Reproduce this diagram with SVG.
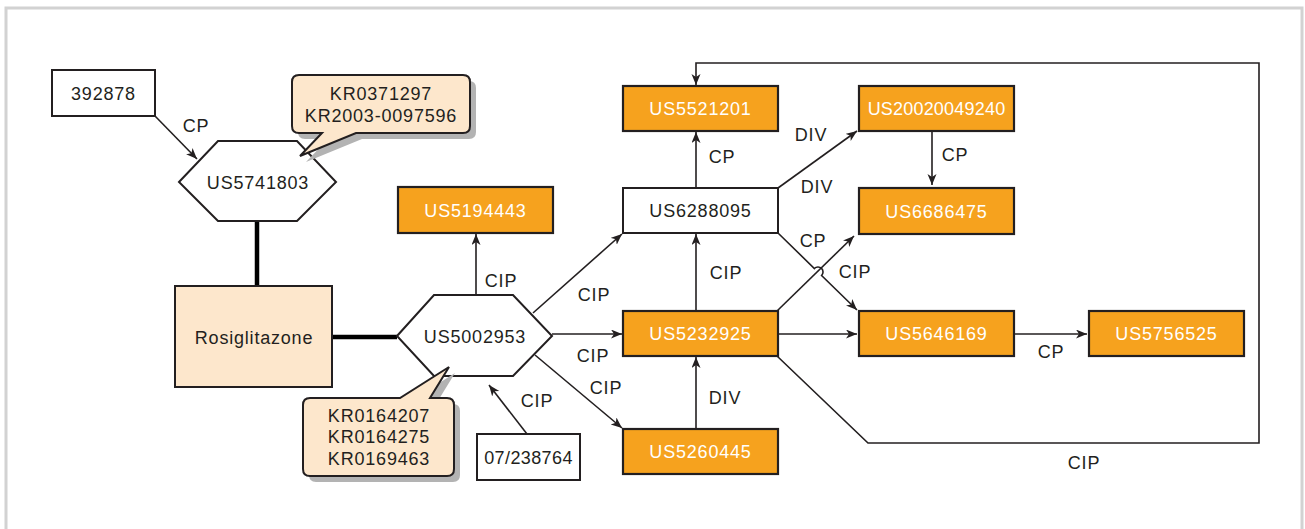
<svg xmlns="http://www.w3.org/2000/svg" width="1305" height="529" viewBox="0 0 1305 529">
<style>
text{font-family:"Liberation Sans",Arial,Helvetica,sans-serif;font-size:18px;letter-spacing:0.8px;fill:#231F20;text-anchor:middle}
.w{fill:#ffffff}
.box{fill:#ffffff;stroke:#231F20;stroke-width:2}
.org{fill:#F6A21E;stroke:#231F20;stroke-width:2.2}
.peach{fill:#FDE7CC;stroke:#231F20;stroke-width:2}
.shadow{fill:#B3B3B3;stroke:none}
.c{fill:none;stroke:#231F20;stroke-width:1.6}
.a{marker-end:url(#ah)}
.thick{fill:none;stroke:#000;stroke-width:4.5}
</style>
<defs>
<marker id="ah" markerUnits="userSpaceOnUse" markerWidth="12" markerHeight="10" refX="11" refY="4.5" orient="auto">
<path d="M0,0 L11,4.5 L0,9 L3,4.5 Z" fill="#231F20"/>
</marker>
</defs>
<rect x="6" y="8" width="1296" height="540" fill="#ffffff" stroke="#D2D2D2" stroke-width="3"/>

<g id="connectors">
<path class="thick" d="M257,221 V286"/>
<path class="thick" d="M332,337 H397"/>
<path class="c a" d="M155,116 L197,159"/>
<path class="c a" d="M476,295 V234"/>
<path class="c a" d="M533,313 L622,234"/>
<path class="c a" d="M552,334 H622"/>
<path class="c a" d="M535,355 L622,428"/>
<path class="c a" d="M527,434 L489,385"/>
<path class="c a" d="M696,188 V132"/>
<path class="c a" d="M696,311 V234"/>
<path class="c a" d="M696,429 V357"/>
<path class="c a" d="M778,188 L857,131"/>
<path class="c a" d="M932,131 V185"/>
<path class="c a" d="M778,233 L814.4,268.5 A5,5 0 0 1 821.6,275.5 L857,310"/>
<path class="c a" d="M777,311 L854,236"/>
<path class="c a" d="M778,334 H857"/>
<path class="c a" d="M1014,334 H1087"/>
<path class="c a" d="M777,356 L868,443 H1259 V63 H696 V85"/>
<text x="196" y="132">CP</text>
<text x="501" y="287">CIP</text>
<text x="594" y="301">CIP</text>
<text x="593" y="362">CIP</text>
<text x="606" y="394">CIP</text>
<text x="537" y="407">CIP</text>
<text x="722" y="163">CP</text>
<text x="726" y="279">CIP</text>
<text x="811" y="141">DIV</text>
<text x="817" y="193">DIV</text>
<text x="813" y="247">CP</text>
<text x="855" y="278">CIP</text>
<text x="955" y="161">CP</text>
<text x="725" y="404">DIV</text>
<text x="1051" y="358">CP</text>
<text x="1084" y="469">CIP</text>
</g>

<g id="n392878"><rect class="box" x="52" y="70" width="103" height="46"/><text x="103.5" y="99.5">392878</text></g>
<g id="nUS5741803"><polygon class="box" points="179,182 218,141 297,141 336,182 297,221 218,221"/><text x="258" y="188.5">US5741803</text></g>
<g id="callout1">
<path class="shadow" transform="translate(6,6)" d="M299,75 H463 Q470,75 470,82 V126 Q470,133 463,133 H356 L300,156 L322,133 H299 Q292,133 292,126 V82 Q292,75 299,75 Z"/>
<path class="peach" d="M299,75 H463 Q470,75 470,82 V126 Q470,133 463,133 H356 L300,156 L322,133 H299 Q292,133 292,126 V82 Q292,75 299,75 Z"/>
<text x="381" y="100">KR0371297</text><text x="381" y="122">KR2003-0097596</text>
</g>
<g id="nRosiglitazone"><rect class="peach" x="175" y="286" width="157" height="101"/><text x="254" y="344">Rosiglitazone</text></g>
<g id="nUS5002953"><polygon class="box" points="397,336 434,295 513,295 552,336 513,376 434,376"/><text x="475" y="343">US5002953</text></g>
<g id="callout2">
<path class="shadow" transform="translate(6,6)" d="M310,398 H400 L449,367 L430,398 H447 Q454,398 454,405 V469 Q454,476 447,476 H310 Q303,476 303,469 V405 Q303,398 310,398 Z"/>
<path class="peach" d="M310,398 H400 L449,367 L430,398 H447 Q454,398 454,405 V469 Q454,476 447,476 H310 Q303,476 303,469 V405 Q303,398 310,398 Z"/>
<text x="379" y="422">KR0164207</text><text x="379" y="443">KR0164275</text><text x="379" y="465">KR0169463</text>
</g>
<g id="n07238764"><rect class="box" x="477" y="434" width="103" height="46"/><text x="528.5" y="463.5" style="letter-spacing:0.4px">07/238764</text></g>
<g id="nUS5194443"><rect class="org" x="398" y="187" width="155" height="46"/><text class="w" x="475.5" y="216.5">US5194443</text></g>
<g id="nUS5521201"><rect class="org" x="623" y="86" width="155" height="45"/><text class="w" x="700.5" y="115">US5521201</text></g>
<g id="nUS6288095"><rect class="box" x="623" y="188" width="155" height="45"/><text x="700.5" y="217">US6288095</text></g>
<g id="nUS5232925"><rect class="org" x="623" y="311" width="155" height="45"/><text class="w" x="700.5" y="340">US5232925</text></g>
<g id="nUS5260445"><rect class="org" x="623" y="429" width="155" height="45"/><text class="w" x="700.5" y="458">US5260445</text></g>
<g id="nUS20020049240"><rect class="org" x="859" y="86" width="155" height="45"/><text class="w" x="936.5" y="115" style="letter-spacing:0.2px">US20020049240</text></g>
<g id="nUS6686475"><rect class="org" x="859" y="188" width="155" height="46"/><text class="w" x="936.5" y="217.5">US6686475</text></g>
<g id="nUS5646169"><rect class="org" x="859" y="311" width="155" height="45"/><text class="w" x="936.5" y="340">US5646169</text></g>
<g id="nUS5756525"><rect class="org" x="1089" y="311" width="155" height="45"/><text class="w" x="1166.5" y="340">US5756525</text></g>
</svg>
